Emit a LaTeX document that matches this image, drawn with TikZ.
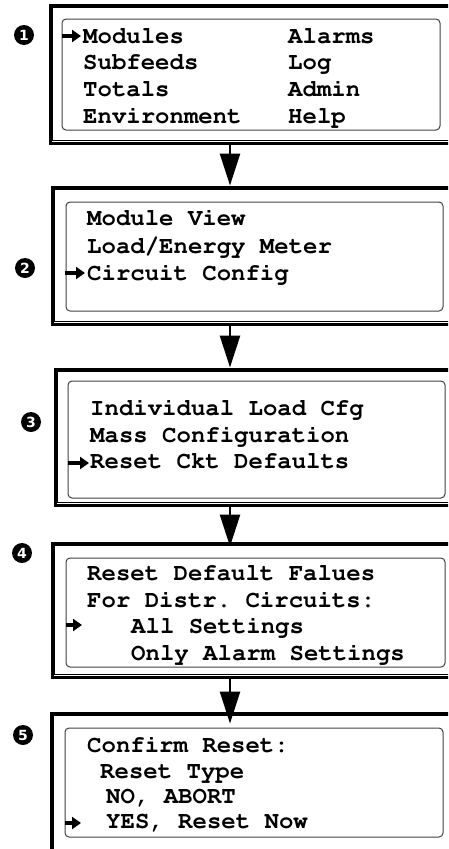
\documentclass[tikz,border=0pt]{standalone}
\usepackage[T1]{fontenc}
\usepackage{fontspec}
\newfontfamily\numfont{DejaVu Sans}
\newcommand{\lcdfont}{\fontencoding{T1}\fontfamily{pcr}\fontseries{b}\selectfont\frenchspacing}
\usetikzlibrary{arrows.meta,fit}
\begin{document}
\begin{tikzpicture}[x=1pt,y=-1pt,
  frame/.style={draw,line width=3pt,inner sep=0pt,fit={#1}},
  screen/.style={draw=black!75,line width=1pt,rounded corners=4pt,inner sep=0pt,fit={#1}},
  bezel/.style={line width=1pt},
  lcd/.style={anchor=base west,inner sep=0pt,font=\lcdfont\fontsize{24}{28}\selectfont},
  num/.style={circle,fill=black,text=white,inner sep=0pt,minimum size=20pt,font=\numfont\bfseries\fontsize{14}{14}\selectfont},
  ptr/.style={line width=4pt,-{Triangle[length=9pt,width=12pt]}},
  flow/.style={line width=2.5pt,-{Triangle[length=32pt,width=20pt]}}]
\path[use as bounding box,clip] (0,0) rectangle (448,849);

\node[frame={(50,5) (460,143)}] (f1) {};
\node[frame={(52,187) (460,324)}] (f2) {};
\node[frame={(55,369) (460,505)}] (f3) {};
\node[frame={(52,543) (460,677)}] (f4) {};
\node[frame={(51,713) (460,852)}] (f5) {};
\foreach \f in {f1,f2,f3,f4,f5}
  \draw[bezel] ([xshift=4pt,yshift=-4pt]\f.north west) rectangle ([xshift=-4pt,yshift=4pt]\f.south east);

\node[screen={(62,19) (440,130)}] (s1) {};
\node[screen={(66,202) (443,311)}] (s2) {};
\node[screen={(68,381) (445,498)}] (s3) {};
\node[screen={(66,558) (445,667)}] (s4) {};
\node[screen={(65,728) (443,837)}] (s5) {};

\node[num] (n1) at (24,35) {1};
\node[num] (n2) at (25,268) {2};
\node[num] (n3) at (31,422) {3};
\node[num] (n4) at (22,553) {4};
\node[num] (n5) at (23,735) {5};

\coordinate (ax) at (230,0);
\draw[flow] (f1.south -| ax) -- (f2.north -| ax);
\draw[flow] (f2.south -| ax) -- (f3.north -| ax);
\draw[flow,shorten >=-5pt] (f3.south -| ax) -- (f4.north -| ax);
\draw[flow,shorten >=-12pt] (f4.south -| ax) -- (f5.north -| ax);

\node[lcd] (m1) at (83,43) {Modules};
\node[lcd] (m2) at (83,69.5) {Subfeeds};
\node[lcd] (m3) at (83,96.5) {Totals};
\node[lcd] (m4) at (83,123) {Environment};
\node[lcd] (m5) at (288,43) {Alarms};
\node[lcd] (m6) at (288,69.5) {Log};
\node[lcd] (m7) at (288,96.5) {Admin};
\node[lcd] (m8) at (288,123) {Help};
\coordinate (p1) at (62,36);
\draw[ptr] (p1) -- ++(19,0);

\node[lcd] (v1) at (87,225) {Module View};
\node[lcd] (v2) at (87,253) {Load/Energy Meter};
\node[lcd] (v3) at (87,280) {Circuit Config};
\coordinate (p2) at (65,273);
\draw[ptr] (p2) -- ++(20,0);

\node[lcd] (c1) at (90,415) {Individual Load Cfg};
\node[lcd] (c2) at (90,442) {Mass Configuration};
\node[lcd] (c3) at (90,468) {Reset Ckt Defaults};
\coordinate (p3) at (68,463);
\draw[ptr] (p3) -- ++(21,0);

\node[lcd] (r1) at (87,580) {Reset Default Falues};
\node[lcd] (r2) at (87,607) {For Distr. Circuits:};
\node[lcd] (r3) at (131,633) {All Settings};
\node[lcd] (r4) at (131,660) {Only Alarm Settings};
\coordinate (p4) at (66,625);
\draw[ptr] (p4) -- ++(16,0);

\node[lcd] (k1) at (87,752) {Confirm Reset:};
\node[lcd] (k2) at (100,778) {Reset Type};
\node[lcd] (k3) at (106,803) {NO, ABORT};
\node[lcd] (k4) at (106,828) {YES, Reset Now};
\coordinate (p5) at (65,823);
\draw[ptr] (p5) -- ++(16,0);
\end{tikzpicture}
\end{document}
